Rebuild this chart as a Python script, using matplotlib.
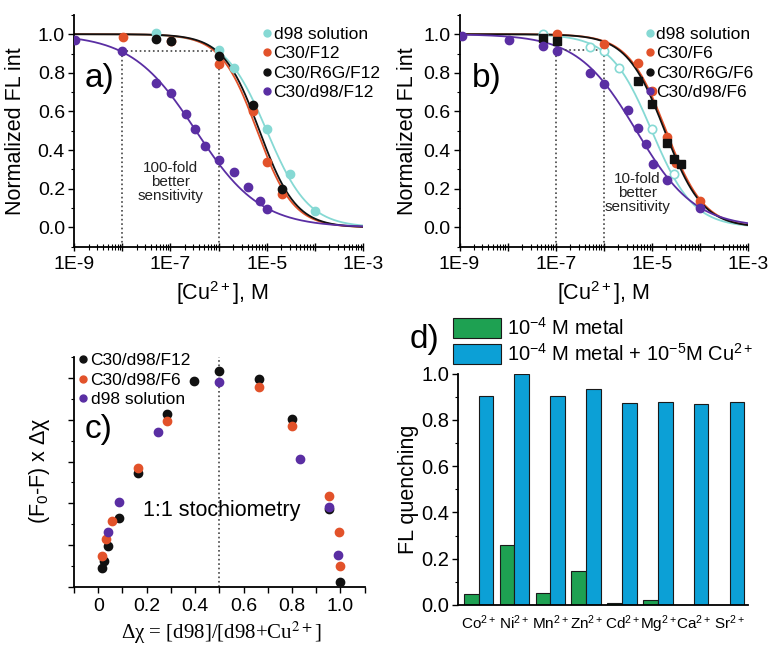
import numpy as np
import matplotlib
matplotlib.use('Agg')
import matplotlib.pyplot as plt
from matplotlib.lines import Line2D
from matplotlib.ticker import MultipleLocator, LogLocator, FixedLocator, FuncFormatter, NullFormatter

plt.rcParams['font.family'] = ['Liberation Sans', 'DejaVu Sans']
plt.rcParams['mathtext.fontset'] = 'custom'
plt.rcParams['mathtext.rm'] = 'Liberation Sans'
plt.rcParams['mathtext.it'] = 'Liberation Sans:italic'
plt.rcParams['mathtext.bf'] = 'Liberation Sans:bold'
plt.rcParams['axes.linewidth'] = 1.3

cyan = '#86d9d4'
red = '#e2522a'
purple = '#5a2ea3'
blk = '#111111'
green = '#1ea152'
blue = '#0ca0d6'

# panel a: log10[Cu2+] and normalized FL intensity
a_sol_x = [-7.30, -5.99, -5.68, -5.0, -4.51, -3.99]
a_sol_y = [1.005, 0.919, 0.825, 0.51, 0.277, 0.087]
a_f12_x = [-7.99, -6.98, -5.99, -5.29, -5.0, -4.69]
a_f12_y = [0.986, 0.965, 0.846, 0.603, 0.340, 0.172]
a_r6g_x = [-7.30, -6.98, -5.99, -5.29, -4.69]
a_r6g_y = [0.977, 0.966, 0.887, 0.635, 0.200]
a_d98_x = [-8.98, -8.0, -7.30, -6.98, -6.68, -6.49, -6.29, -5.99, -5.68, -5.38, -5.14, -5.0]
a_d98_y = [0.97, 0.913, 0.749, 0.697, 0.586, 0.511, 0.423, 0.347, 0.286, 0.208, 0.135, 0.097]
# fitted curves: (log10 of half point, slope)
a_fits = [(-5.0, 1.0, cyan), (-5.2, 1.15, red), (-5.15, 1.15, blk), (-6.47, 0.65, purple)]

# panel b
b_sol_x = [-7.27, -6.28, -5.99, -5.69, -4.99, -4.53]
b_sol_y = [1.0, 0.932, 0.915, 0.827, 0.509, 0.277]
b_f6_x = [-6.98, -5.99, -5.285, -4.99, -4.68, -4.50, -3.99]
b_f6_y = [1.0, 0.95, 0.852, 0.705, 0.468, 0.335, 0.139]
b_r6g_x = [-7.27, -6.98, -5.285, -4.99, -4.68, -4.53, -4.40]
b_r6g_y = [0.98, 0.967, 0.757, 0.641, 0.437, 0.355, 0.33]
b_d98_x = [-8.94, -7.975, -7.27, -6.98, -6.28, -5.99, -5.50, -5.285, -5.13, -4.97, -4.68, -3.99]
b_d98_y = [0.993, 0.970, 0.939, 0.911, 0.80, 0.742, 0.61, 0.517, 0.433, 0.33, 0.248, 0.10]
b_fits = [(-5.0, 1.0, cyan), (-4.70, 1.1, red), (-4.73, 1.1, blk), (-5.32, 0.71, purple)]

# panel c: Job plot
c_f12_x = [0.014, 0.022, 0.042, 0.086, 0.163, 0.282, 0.397, 0.497, 0.665, 0.799, 0.951, 1.0]
c_f12_y = [0.46, 0.63, 0.97, 1.64, 2.73, 4.13, 4.92, 5.16, 4.97, 4.01, 1.87, 0.11]
c_f6_x = [0.014, 0.032, 0.057, 0.163, 0.282, 0.665, 0.799, 0.951, 0.993, 1.0]
c_f6_y = [0.73, 1.14, 1.58, 2.85, 3.98, 4.79, 3.86, 2.17, 1.31, 0.51]
c_sol_x = [0.042, 0.086, 0.247, 0.497, 0.832, 0.951, 0.99]
c_sol_y = [1.31, 2.04, 3.71, 4.90, 3.06, 1.92, 0.77]

# panel d: selectivity
metals = ['Co', 'Ni', 'Mn', 'Zn', 'Cd', 'Mg', 'Ca', 'Sr']
q_metal = [0.049, 0.258, 0.052, 0.148, 0.007, 0.023, 0.002, 0.0]
q_metal_cu = [0.905, 1.0, 0.903, 0.935, 0.875, 0.879, 0.870, 0.878]


def hill(lx, l0, p):
    return 1.0 / (1.0 + 10.0 ** (p * (lx - l0)))


def place_labels(ax, xl, yl):
    # centre of each axis label in axes coordinates
    ax.xaxis.set_label_coords(*xl)
    ax.yaxis.set_label_coords(*yl)
    ax.xaxis.label.set_va('center')
    ax.yaxis.label.set_va('center')


def style_log_axis(ax):
    ax.set_xscale('log')
    ax.set_xlim(1e-9, 1e-3)
    ax.set_ylim(-0.1, 1.1)
    ax.xaxis.set_major_locator(FixedLocator([10.0 ** k for k in range(-9, -2)]))
    ax.xaxis.set_major_formatter(FuncFormatter(
        lambda v, pos: '1E%d' % round(np.log10(v)) if round(np.log10(v)) % 2 == 1 else ''))
    ax.xaxis.set_minor_locator(LogLocator(base=10, subs=np.arange(2, 10), numticks=20))
    ax.xaxis.set_minor_formatter(NullFormatter())
    ax.yaxis.set_major_locator(MultipleLocator(0.2))
    ax.yaxis.set_minor_locator(MultipleLocator(0.1))
    ax.yaxis.set_major_formatter(FuncFormatter(lambda v, pos: '%.1f' % v))
    ax.tick_params(axis='x', which='both', direction='inout', labelsize=14, pad=4)
    ax.tick_params(axis='x', which='major', length=6, width=1)
    ax.tick_params(axis='x', which='minor', length=4, width=0.8)
    ax.tick_params(axis='y', which='major', length=4.5, width=1, labelsize=14, pad=2)
    ax.tick_params(axis='y', which='minor', length=2.5, width=0.8)
    for s in ['top', 'right']:
        ax.spines[s].set_visible(False)
    ax.set_xlabel('[Cu$^{2+}$], M', fontsize=15.5)
    ax.set_ylabel('Normalized FL int', fontsize=15.5)


fig = plt.figure(figsize=(7.71, 6.46), dpi=100)
ax_a = fig.add_axes([0.096, 0.618, 0.375, 0.359])
ax_b = fig.add_axes([0.596, 0.618, 0.374, 0.359])
ax_c = fig.add_axes([0.096, 0.0913, 0.377, 0.356])
ax_d = fig.add_axes([0.594, 0.0635, 0.376, 0.358])

xs = np.linspace(-9, -3, 300)
dot = dict(color='#444444', ls=':', lw=1.2)
leg_kw = dict(loc='upper left', frameon=False, fontsize=12.5, handlelength=0.5,
              borderpad=0, borderaxespad=0, labelspacing=0.25)

# ---- a)
style_log_axis(ax_a)
for l0, p, col in a_fits:
    ax_a.plot(10.0 ** xs, hill(xs, l0, p), color=col, lw=1.3)
ax_a.plot([1e-8, 1e-8], [-0.1, 0.913], **dot)
ax_a.plot([1e-6, 1e-6], [-0.1, 0.92], **dot)
ax_a.plot([1e-8, 1e-6], [0.913, 0.913], **dot)
ax_a.plot(10.0 ** np.array(a_sol_x), a_sol_y, 'o', color=cyan, ms=6, zorder=3)
ax_a.plot(10.0 ** np.array(a_f12_x), a_f12_y, 'o', color=red, ms=6, zorder=3)
ax_a.plot(10.0 ** np.array(a_r6g_x), a_r6g_y, 'o', color=blk, ms=6, zorder=3)
ax_a.plot(10.0 ** np.array(a_d98_x), a_d98_y, 'o', color=purple, ms=6, zorder=3)
ax_a.text(1e-7, 0.234, '100-fold\nbetter\nsensitivity', ha='center', va='center',
          fontsize=11, linespacing=1.0, color='#222222')
ax_a.text(0.038, 0.688, 'a)', transform=ax_a.transAxes, fontsize=24, va='baseline')
h_a = [Line2D([], [], marker='o', ls='none', color=c, ms=5) for c in [cyan, red, blk, purple]]
ax_a.legend(h_a, ['d98 solution', 'C30/F12', 'C30/R6G/F12', 'C30/d98/F12'],
            bbox_to_anchor=(0.654, 0.95), handletextpad=0.1, **leg_kw)
place_labels(ax_a, (0.511, -0.2), (-0.204, 0.5))

# ---- b)
style_log_axis(ax_b)
for l0, p, col in b_fits:
    ax_b.plot(10.0 ** xs, hill(xs, l0, p), color=col, lw=1.3)
ax_b.plot([1e-7, 1e-7], [-0.1, 0.92], **dot)
ax_b.plot([1e-6, 1e-6], [-0.1, 0.92], **dot)
ax_b.plot([1e-7, 1e-6], [0.92, 0.92], **dot)
ax_b.plot(10.0 ** np.array(b_sol_x), b_sol_y, 'o', mfc='white', mec=cyan, mew=1.2, ms=6, zorder=3)
ax_b.plot(10.0 ** np.array(b_f6_x), b_f6_y, 'o', color=red, ms=6, zorder=3)
ax_b.plot(10.0 ** np.array(b_r6g_x), b_r6g_y, 's', color=blk, ms=5.5, zorder=3)
ax_b.plot(10.0 ** np.array(b_d98_x), b_d98_y, 'o', color=purple, ms=6, zorder=3)
ax_b.text(10 ** -5.3, 0.177, '10-fold\nbetter\nsensitivity', ha='center', va='center',
          fontsize=11, linespacing=1.0, color='#222222')
ax_b.text(0.044, 0.69, 'b)', transform=ax_b.transAxes, fontsize=24, va='baseline')
h_b = [Line2D([], [], marker='o', ls='none', color=c, ms=5) for c in [cyan, red, blk, purple]]
ax_b.legend(h_b, ['d98 solution', 'C30/F6', 'C30/R6G/F6', 'C30/d98/F6'],
            bbox_to_anchor=(0.646, 0.95), handletextpad=0.1, **leg_kw)
place_labels(ax_b, (0.5, -0.2), (-0.18, 0.5))

# ---- c)
ax_c.set_xlim(-0.1, 1.1)
ax_c.set_ylim(0, 5.5)
ax_c.plot([0.5, 0.5], [0, 5.5], **dot)
ax_c.plot(c_f12_x, c_f12_y, 'o', color=blk, ms=6, zorder=3)
ax_c.plot(c_f6_x, c_f6_y, 'o', color=red, ms=6, zorder=3)
ax_c.plot(c_sol_x, c_sol_y, 'o', color=purple, ms=6, zorder=3)
ax_c.xaxis.set_major_locator(MultipleLocator(0.2))
ax_c.xaxis.set_minor_locator(MultipleLocator(0.1))
ax_c.xaxis.set_major_formatter(FuncFormatter(lambda v, pos: '0' if abs(v) < 1e-9 else '%.1f' % v))
ax_c.yaxis.set_major_locator(MultipleLocator(1))
ax_c.yaxis.set_minor_locator(MultipleLocator(0.5))
ax_c.yaxis.set_major_formatter(NullFormatter())
ax_c.tick_params(axis='x', which='both', length=4, width=1, labelsize=14, pad=4)
ax_c.tick_params(axis='y', which='major', length=4.5, width=1)
ax_c.tick_params(axis='y', which='minor', length=2.5, width=0.8)
for s in ['top', 'right']:
    ax_c.spines[s].set_visible(False)
ax_c.text(0.511, 1.82, '1:1 stochiometry', ha='center', va='center', fontsize=15.5)
ax_c.text(0.038, 0.648, 'c)', transform=ax_c.transAxes, fontsize=24, va='baseline')
h_c = [Line2D([], [], marker='o', ls='none', color=c, ms=5) for c in [blk, red, purple]]
ax_c.legend(h_c, ['C30/d98/F12', 'C30/d98/F6', 'd98 solution'],
            bbox_to_anchor=(0.017, 1.017), handletextpad=0.17, **leg_kw)
ax_c.set_xlabel('Δχ = [d98]/[d98+Cu$^{2+}$]', fontsize=15, family='Liberation Serif',
                math_fontfamily='stix')
ax_c.set_ylabel('(F$_0$-F) x Δχ', fontsize=15.5)
place_labels(ax_c, (0.508, -0.2), (-0.12, 0.505))

# ---- d)
pos = np.arange(len(metals))
w = 0.41
ax_d.bar(pos - w / 2, q_metal, w, color=green, edgecolor='#1a1a1a', lw=0.8, label='10$^{-4}$ M metal')
ax_d.bar(pos + w / 2, q_metal_cu, w, color=blue, edgecolor='#1a1a1a', lw=0.8,
         label='10$^{-4}$ M metal + 10$^{-5}$M Cu$^{2+}$')
ax_d.set_xlim(-0.576, 7.51)
ax_d.set_ylim(0, 1.0)
ax_d.set_xticks(pos)
ax_d.set_xticklabels([m + '$^{2+}$' for m in metals], fontsize=11)
ax_d.yaxis.set_major_locator(MultipleLocator(0.2))
ax_d.yaxis.set_minor_locator(MultipleLocator(0.1))
ax_d.yaxis.set_major_formatter(FuncFormatter(lambda v, pos: '%.1f' % v))
ax_d.tick_params(axis='x', length=0, pad=6)
ax_d.tick_params(axis='y', which='major', length=4.5, width=1, labelsize=14.5, pad=2)
ax_d.tick_params(axis='y', which='minor', length=2.5, width=0.8)
for s in ['top', 'right']:
    ax_d.spines[s].set_visible(False)
ax_d.set_ylabel('FL quenching', fontsize=15.5)
ax_d.yaxis.set_label_coords(-0.172, 0.502)
ax_d.yaxis.label.set_va('center')
ax_d.legend(loc='upper left', bbox_to_anchor=(452.7 / 771, 1 - 317.3 / 646),
            bbox_transform=fig.transFigure, frameon=False, fontsize=14.5,
            handlelength=2.4, handleheight=1.15, handletextpad=0.3,
            borderpad=0, borderaxespad=0, labelspacing=0.2)
fig.text(410 / 771, 1 - 348 / 646, 'd)', fontsize=24, va='baseline')

fig.savefig('out.png', dpi=100)
